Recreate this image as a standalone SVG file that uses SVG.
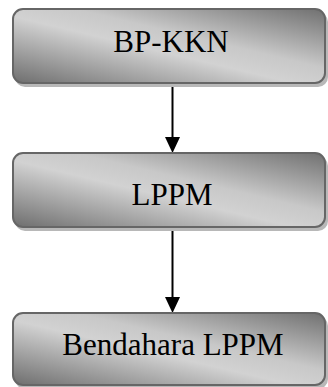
<svg xmlns="http://www.w3.org/2000/svg" width="328" height="387" viewBox="0 0 328 387">
<defs>
<linearGradient id="g" x1="0" y1="1" x2="1" y2="0">
<stop offset="0" stop-color="#6e6e6e"/>
<stop offset="0.45" stop-color="#d2d2d2"/>
<stop offset="0.6" stop-color="#c8c8c8"/>
<stop offset="1" stop-color="#707070"/>
</linearGradient>
</defs>
<style>
.sh{fill:#b8b8b8;}
.box{fill:url(#g);stroke:#666;stroke-width:2;}
.lbl{font-size:31px;fill:#000;text-anchor:middle;}
.con{stroke:#000;stroke-width:2;fill:none;}
</style>
<g id="connectors">
<line class="con" x1="172.5" y1="83" x2="172.5" y2="138"/>
<path d="M165,137 L180,137 L172.5,153 z" fill="#000"/>
<line class="con" x1="172.5" y1="227" x2="172.5" y2="298"/>
<path d="M165,297 L180,297 L172.5,313 z" fill="#000"/>
</g>
<g id="n1">
<rect class="sh" x="15" y="12" width="313" height="75" rx="10"/>
<rect class="box" x="13" y="9" width="312" height="74" rx="10"/>
<text class="lbl" x="171" y="52" font-family="'Liberation Serif', 'DejaVu Serif', serif">BP-KKN</text>
</g>
<g id="n2">
<rect class="sh" x="15" y="156" width="313" height="75" rx="10"/>
<rect class="box" x="13" y="153" width="312" height="74" rx="10"/>
<text class="lbl" x="172" y="205" font-family="'Liberation Serif', 'DejaVu Serif', serif">LPPM</text>
</g>
<g id="n3">
<rect class="sh" x="15" y="316" width="313" height="73" rx="10"/>
<rect class="box" x="13" y="313" width="312" height="72" rx="10"/>
<text class="lbl" x="173" y="355" font-family="'Liberation Serif', 'DejaVu Serif', serif">Bendahara LPPM</text>
</g>
</svg>
